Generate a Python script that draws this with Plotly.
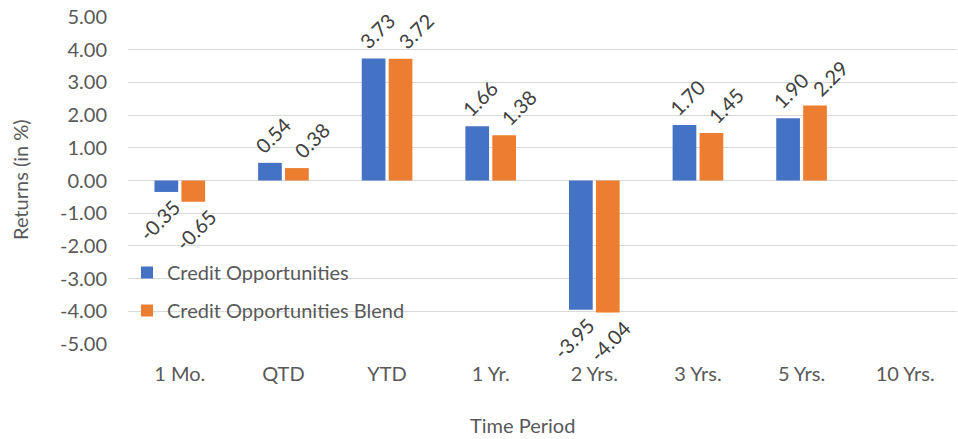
import plotly.graph_objects as go

periods = ["1 Mo.", "QTD", "YTD", "1 Yr.", "2 Yrs.", "3 Yrs.", "5 Yrs.", "10 Yrs."]
credit_opps = [-0.35, 0.54, 3.73, 1.66, -3.95, 1.70, 1.90, None]
credit_blend = [-0.65, 0.38, 3.72, 1.38, -4.04, 1.45, 2.29, None]
y_ticks = [-5, -4, -3, -2, -1, 0, 1, 2, 3, 4, 5]

FONT = "Lato"
AXIS_GREY = "#595959"
LABEL_GREY = "#404040"

L, R, T, B = 128, 1, 17, 95
W, H = 958, 439
pw = W - L - R
ph = H - T - B
BARGAP = 0.48


def fmt(v):
    # plain hyphen for negatives, two decimals
    return "" if v is None else f"{v:.2f}"


series = [
    # name, values, colour, label nudge (px) above zero, label nudge below zero
    ("Credit Opportunities", credit_opps, "#4472C4", 3, -7),
    ("Credit Opportunities Blend", credit_blend, "#ED7D31", 15, 2),
]

cat_px = pw / len(periods)
slot_px = (1 - BARGAP) * cat_px / len(series)

fig = go.Figure()
annotations = []
for i, (name, vals, color, nudge_pos, nudge_neg) in enumerate(series):
    fig.add_trace(go.Bar(
        x=periods, y=vals, name=name, legendgroup=f"g{i}",
        marker=dict(color=color, line=dict(width=0)),
        cliponaxis=False,
    ))
    bar_offset = (i - (len(series) - 1) / 2) * slot_px
    for cat, v in zip(periods, vals):
        if v is None:
            continue
        pos = v >= 0
        annotations.append(dict(
            x=cat, y=v, xref="x", yref="y", text=fmt(v), showarrow=False,
            textangle=-45, xanchor="center", yanchor="middle",
            xshift=bar_offset + (nudge_pos if pos else nudge_neg),
            yshift=28 if pos else -28,
            font=dict(family=FONT, size=20, color=LABEL_GREY),
        ))

annotations += [
    dict(text="Returns (in %)", textangle=-90, xref="paper", yref="paper",
         x=(20 - L) / pw, y=(H - B - 180) / ph, showarrow=False,
         xanchor="center", yanchor="middle",
         font=dict(family=FONT, size=20, color=AXIS_GREY)),
    dict(text="Time Period", xref="paper", yref="paper",
         x=(522 - L) / pw, y=(H - B - 425) / ph, showarrow=False,
         xanchor="center", yanchor="middle",
         font=dict(family=FONT, size=20, color=AXIS_GREY)),
]

fig.update_layout(
    width=W, height=H,
    margin=dict(l=L, r=R, t=T, b=B),
    paper_bgcolor="white", plot_bgcolor="white",
    barmode="group", bargap=BARGAP, bargroupgap=0.12,
    font=dict(family=FONT, size=20, color=AXIS_GREY),
    showlegend=True,
    legend=dict(
        x=(127 - L) / pw, y=(H - B - 253) / ph,
        xanchor="left", yanchor="top",
        bgcolor="rgba(0,0,0,0)",
        font=dict(family=FONT, size=20, color=AXIS_GREY),
        tracegroupgap=9, itemwidth=30,
    ),
    xaxis=dict(
        showgrid=False, showline=False, ticks="",
        tickfont=dict(family=FONT, size=20, color=AXIS_GREY),
        ticklabelstandoff=16,
    ),
    yaxis=dict(
        range=[-5, 5], tickvals=y_ticks, ticktext=[fmt(float(v)) for v in y_ticks],
        showgrid=True, gridcolor="#D9D9D9", gridwidth=1,
        zeroline=True, zerolinecolor="#D9D9D9", zerolinewidth=1,
        showline=False, ticks="",
        tickfont=dict(family=FONT, size=20, color=AXIS_GREY),
        ticklabelstandoff=20,
    ),
    annotations=annotations,
)

fig.write_html("out.html")
